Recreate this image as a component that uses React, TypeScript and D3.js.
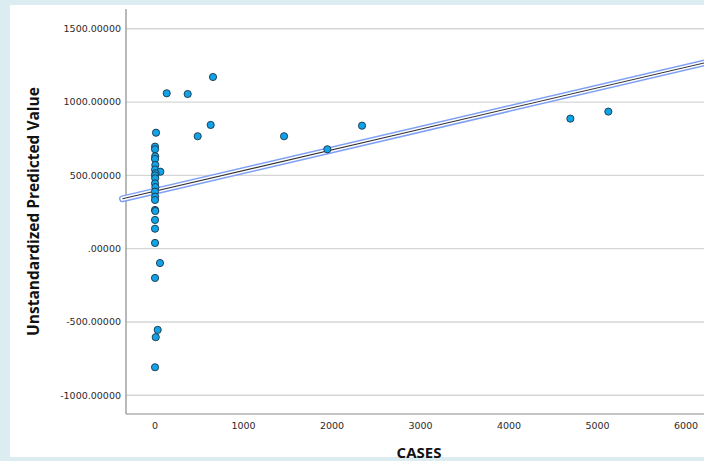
import * as d3 from 'd3';

// CASES vs. unstandardized predicted value
const CASES = [
  132, 369, 655, 11, 482, 629, 1458, 1947, 2339, 4693, 5122,
  0, 0, 2, 0, 3, 0, 60, 5, 0, 2, 0, 4, 0, 1, 0, 0, 3, 0, 0, 0, 56, 0, 30, 8, 0,
];
const PREDICTED = [
  1060, 1055, 1171, 791, 767, 844, 767, 678, 839, 887, 935,
  696, 678, 630, 612, 571, 540, 525, 514, 500, 480, 445, 420, 389, 355, 332, 264, 257, 196, 136, 39, -98, -200, -554, -604, -809,
];
const X_TICKS = [0, 1000, 2000, 3000, 4000, 5000, 6000];
const Y_TICKS = [1500, 1000, 500, 0, -500, -1000];
const FIT_INTERCEPT = 392;
const FIT_SLOPE = 0.141;

const W = 704;
const H = 461;

export default function App() {
  const left = 126;
  const right = 704;
  const top = 9;
  const bottom = 414;

  const x = d3.scaleLinear().domain([-328, 6203]).range([left, right]);
  const y = d3.scaleLinear().domain([-1128, 1635]).range([bottom, top]);

  // the fit starts a little left of the axis, as in SPSS output
  const fitX = [-368, 6300];
  const line = d3
    .line<number>()
    .x(d => x(d))
    .y(d => y(FIT_INTERCEPT + FIT_SLOPE * d));
  const fitPath = line(fitX) ?? '';

  const fmtY = (v: number) => (v === 0 ? '.00000' : v.toFixed(5));

  return (
    <svg
      width={W}
      height={H}
      style={{ position: 'absolute', left: 0, top: 0, background: '#dcedf2' }}
    >
      <rect x={10} y={5} width={W - 10} height={452} fill="#ffffff" />

      {/* gridlines */}
      {Y_TICKS.map(t => (
        <line
          key={t}
          x1={left}
          x2={right}
          y1={y(t)}
          y2={y(t)}
          stroke="#d6d6d6"
          strokeWidth={1.4}
        />
      ))}

      {/* axes */}
      <line x1={left} x2={left} y1={top} y2={bottom} stroke="#8a8a8a" strokeWidth={1.2} />
      <line x1={left} x2={right} y1={bottom} y2={bottom} stroke="#8a8a8a" strokeWidth={1.2} />

      {/* fit line with band */}
      <path d={fitPath} fill="none" stroke="#7d9ff5" strokeWidth={7} strokeLinecap="round" />
      <path d={fitPath} fill="none" stroke="#ffffff" strokeWidth={4} strokeLinecap="round" />
      <path d={fitPath} fill="none" stroke="#333333" strokeWidth={1.1} />

      {/* points */}
      {CASES.map((c, i) => (
        <circle
          key={i}
          cx={x(c)}
          cy={y(PREDICTED[i])}
          r={3.6}
          fill="#10a3e8"
          stroke="#1d3447"
          strokeWidth={0.9}
        />
      ))}

      {/* tick labels */}
      {Y_TICKS.map(t => (
        <text
          key={t}
          x={left - 5}
          y={y(t)}
          dy="0.35em"
          textAnchor="end"
          fontFamily="DejaVu Sans"
          fontSize={9.5}
          fill="#2a2a2a"
        >
          {fmtY(t)}
        </text>
      ))}
      {X_TICKS.map(t => (
        <text
          key={t}
          x={x(t)}
          y={bottom + 15}
          textAnchor="middle"
          fontFamily="DejaVu Sans"
          fontSize={9.5}
          fill="#2a2a2a"
        >
          {t}
        </text>
      ))}

      {/* axis titles */}
      <text
        transform={`translate(39, ${(top + bottom) / 2}) rotate(-90)`}
        textAnchor="middle"
        fontFamily="Open Sans"
        fontWeight="bold"
        fontSize={15.5}
        fill="#111111"
      >
        Unstandardized Predicted Value
      </text>
      <text
        x={419}
        y={458}
        textAnchor="middle"
        fontFamily="Open Sans"
        fontWeight="bold"
        fontSize={15}
        fill="#111111"
      >
        CASES
      </text>
    </svg>
  );
}
